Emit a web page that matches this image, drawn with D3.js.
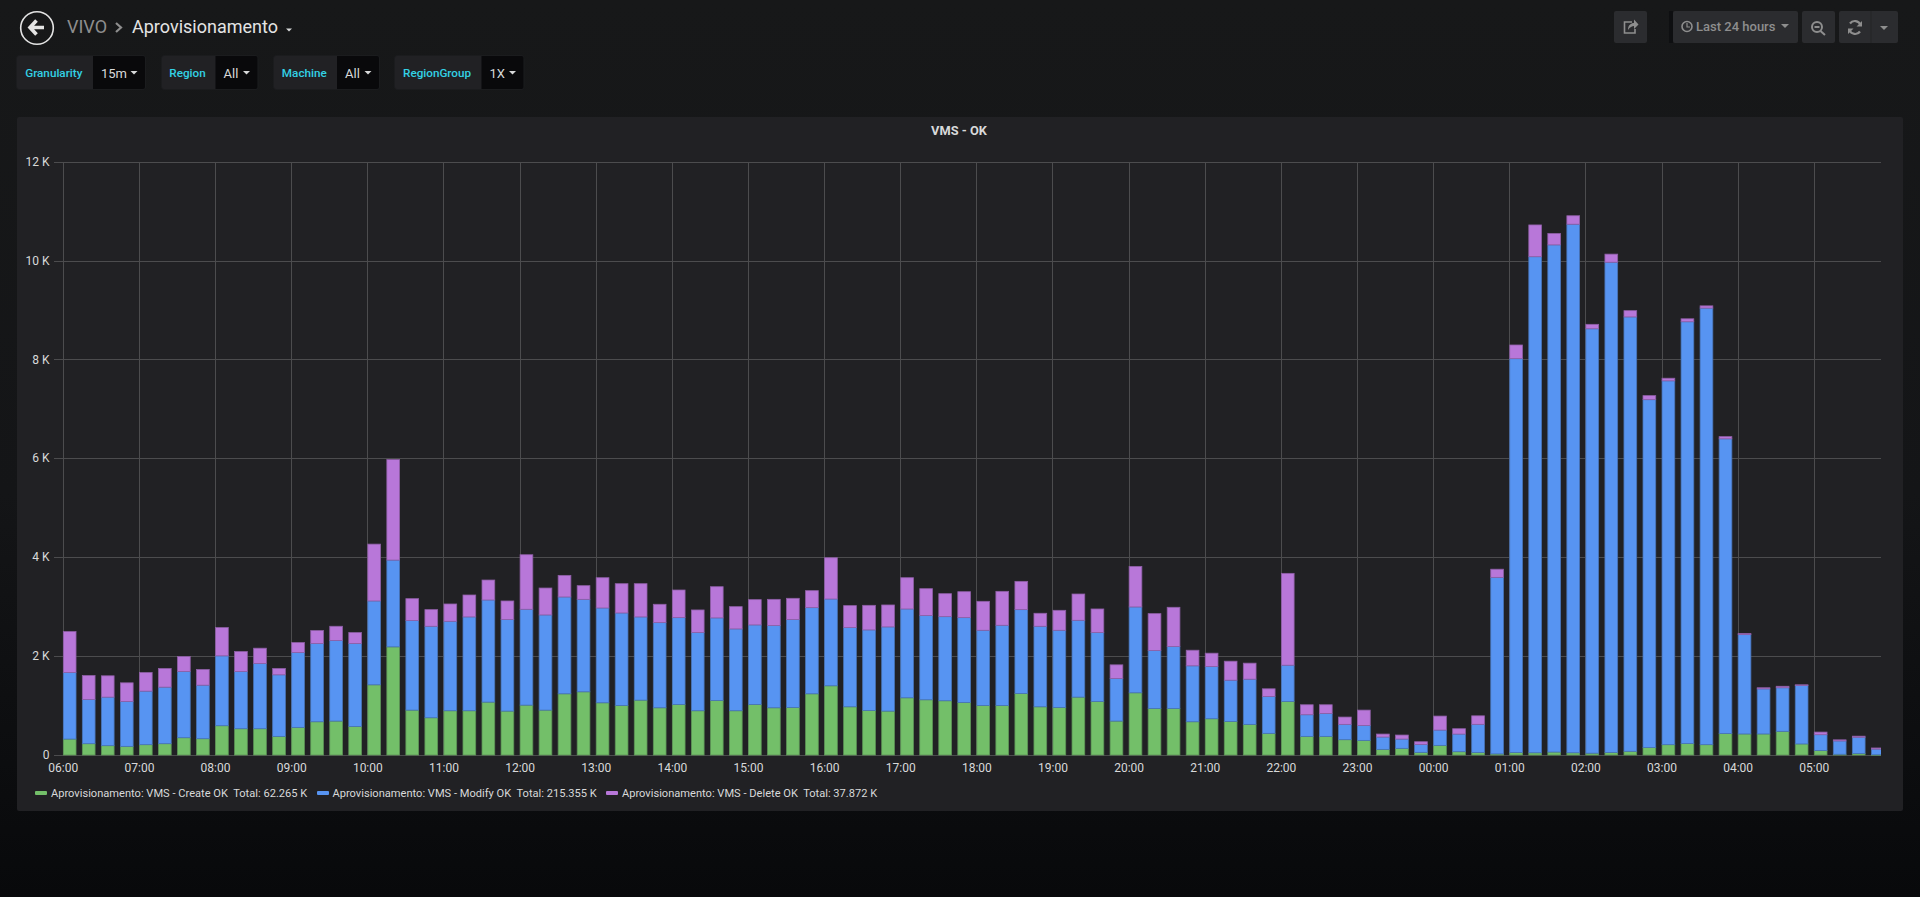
<!DOCTYPE html>
<html>
<head>
<meta charset="utf-8">
<script src="https://cdn.jsdelivr.net/npm/d3@7/dist/d3.min.js"></script>
<style>
html,body{margin:0;padding:0;background:#0b0c0e;overflow:hidden}
svg{display:block;font-family:Roboto,sans-serif}
</style>
</head>
<body>
<svg id="c" width="1920" height="897"></svg>
<script>
const startHour = 6;
const tickLabels = ["06:00","07:00","08:00","09:00","10:00","11:00","12:00","13:00","14:00","15:00","16:00","17:00","18:00","19:00","20:00","21:00","22:00","23:00","00:00","01:00","02:00","03:00","04:00","05:00"];
const yTickValues = [0,2000,4000,6000,8000,10000,12000];
const yTickLabels = ["0","2 K","4 K","6 K","8 K","10 K","12 K"];
const seriesNames = ["Aprovisionamento: VMS - Create OK","Aprovisionamento: VMS - Modify OK","Aprovisionamento: VMS - Delete OK"];
const seriesTotals = ["62.265 K","215.355 K","37.872 K"];
const seriesColors = ["#73bf69","#5794f2","#b877d9"];
// values, one per 15 minute bucket
const createOk = [323,229,189,175,209,229,350,330,593,532,532,377,559,673,687,579,1421,2189,909,754,896,896,1071,889,
1010,909,1239,1279,1057,1003,1111,956,1024,896,1104,896,1024,956,963,1239,1401,976,902,889,1158,1118,1098,1064,
1003,1003,1246,976,963,1172,1084,687,1259,943,943,673,734,680,620,438,1084,377,377,310,296,114,135,54,
195,67,52,22,52,45,60,45,37,52,75,150,209,232,209,434,426,426,479,224,90,15,30,5];
const modifyOk = [1347,896,983,909,1084,1145,1340,1084,1414,1158,1320,1246,1515,1583,1630,1677,1697,1757,1812,1852,1811,1899,2067,1852,
1940,1926,1960,1872,1919,1872,1684,1724,1757,1582,1671,1656,1609,1664,1778,1744,1757,1603,1630,1704,1798,1704,1703,1717,
1522,1623,1697,1630,1562,1555,1394,862,1738,1171,1252,1132,1057,835,915,747,734,438,465,310,303,250,188,161,
310,357,569,3574,7971,10042,10266,10700,8591,9923,8793,7043,7365,8538,8838,5966,2011,912,882,1182,321,269,329,115];
const deleteOk = [828,484,431,377,377,377,303,317,572,404,310,128,202,263,289,222,1151,2034,444,337,350,444,404,377,
1104,545,437,277,613,593,673,371,559,458,632,451,512,531,431,344,835,445,498,444,633,545,465,525,
586,687,572,263,404,532,478,276,821,748,795,316,270,384,324,155,1859,202,175,148,310,60,81,54,
283,108,172,165,277,643,231,171,90,164,127,82,53,60,45,45,23,23,30,15,53,23,22,22];

const W = 1920, H = 897;
const svg = d3.select("#c");
const plot = {left:63.3, right:1881, top:162.2, bottom:755};
const stepH = 76.13;

const defs = svg.append("defs");
const bg = defs.append("linearGradient").attr("id","bg").attr("x1",0).attr("y1",0).attr("x2",0).attr("y2",1);
bg.append("stop").attr("offset","0").attr("stop-color","#171819");
bg.append("stop").attr("offset","0.55").attr("stop-color","#141517");
bg.append("stop").attr("offset","1").attr("stop-color","#08090b");
svg.append("rect").attr("width",W).attr("height",H).attr("fill","url(#bg)");
defs.append("clipPath").attr("id","plotClip").append("rect")
  .attr("x",plot.left-1).attr("y",plot.top-20).attr("width",plot.right-plot.left+1).attr("height",plot.bottom-plot.top+21);

// header -----------------------------------------------------------
const head = svg.append("g");
head.append("circle").attr("cx",37).attr("cy",28).attr("r",16.3).attr("fill","none").attr("stroke","#e4e4e4").attr("stroke-width",1.6);
head.append("path").attr("d","M36.5 20.5 L30 27.5 L36.5 34.5 M31 27.5 H44").attr("fill","none").attr("stroke","#e4e4e4").attr("stroke-width",3.6);
head.append("text").attr("x",67).attr("y",33).attr("font-size",18).attr("fill","#8e8e8e").text("VIVO");
head.append("path").attr("d","M116 23 L121 27.5 L116 32").attr("fill","none").attr("stroke","#8e8e8e").attr("stroke-width",2.2);
head.append("text").attr("x",132).attr("y",33).attr("font-size",18).attr("fill","#e4e4e4").text("Aprovisionamento");
head.append("path").attr("d","M286 28.5 h6 l-3 3 z").attr("fill","#d8d9da");

const variables = [
  {label:"Granularity",value:"15m",x0:16,x1:93,x2:145},
  {label:"Region",value:"All",x0:161,x1:215.5,x2:257.5},
  {label:"Machine",value:"All",x0:273,x1:337,x2:379},
  {label:"RegionGroup",value:"1X",x0:394,x1:481.5,x2:523.5}
];
const vg = head.selectAll("g.v").data(variables).join("g");
vg.append("rect").attr("x",d=>d.x0+.5).attr("y",55.5).attr("width",d=>d.x2-d.x0).attr("height",34).attr("rx",3).attr("fill","#212124").attr("stroke","#1b1c1e");
vg.append("path").attr("d",d=>`M${d.x1} 56 H${d.x2-2} a2 2 0 0 1 2 2 V87 a2 2 0 0 1 -2 2 H${d.x1} Z`).attr("fill","#09090b");
vg.append("text").attr("x",d=>(d.x0+d.x1)/2-0.7).attr("y",77).attr("text-anchor","middle").attr("font-size",11.7).attr("font-weight",500).attr("style","fill:#33d1e5").text(d=>d.label);
vg.append("text").attr("x",d=>d.x1+8).attr("y",78).attr("font-size",13).attr("fill","#d8d9da").text(d=>d.value);
vg.append("path").attr("d",d=>`M${d.x2-14.5} 71 h7 l-3.5 3.5 z`).attr("fill","#d8d9da");

// toolbar ----------------------------------------------------------
const tb = svg.append("g");
[[1614,33],[1673,125],[1802,33],[1839,59]].forEach(b=>{
  tb.append("rect").attr("x",b[0]).attr("y",11).attr("width",b[1]).attr("height",32).attr("rx",2).attr("fill","#2b2c2f");
});
tb.append("rect").attr("x",1669).attr("y",11).attr("width",4).attr("height",32).attr("fill","#0e0f11");
tb.append("path").attr("d","M1632 22 H1624.5 V33 H1635 V29").attr("fill","none").attr("stroke","#8e8e8e").attr("stroke-width",1.6);
tb.append("path").attr("d","M1628 30 C1628 25 1631 23 1634 23 V19.5 L1638.5 24.5 L1634 29 V26 C1632 26 1630 27 1628 30 Z").attr("fill","#8e8e8e");
tb.append("circle").attr("cx",1687).attr("cy",26.5).attr("r",5).attr("fill","none").attr("stroke","#8e8e8e").attr("stroke-width",1.6);
tb.append("path").attr("d","M1687 23 V27 H1690").attr("fill","none").attr("stroke","#8e8e8e").attr("stroke-width",1.2);
tb.append("text").attr("x",1696).attr("y",31).attr("font-size",13).attr("font-weight",500).attr("fill","#8e8e8e").text("Last 24 hours");
tb.append("path").attr("d","M1781 24 h8 l-4 4 z").attr("fill","#8e8e8e");
tb.append("circle").attr("cx",1817).attr("cy",27).attr("r",5).attr("fill","none").attr("stroke","#8e8e8e").attr("stroke-width",2);
tb.append("path").attr("d","M1814.5 27 h5 M1820.5 31 L1825 35").attr("fill","none").attr("stroke","#8e8e8e").attr("stroke-width",2);
tb.append("path").attr("d","M1860.5 25 a6 6 0 0 0 -10.5 -1.5 M1849.5 30 a6 6 0 0 0 10.5 1.5").attr("fill","none").attr("stroke","#8e8e8e").attr("stroke-width",2.2);
tb.append("path").attr("d","M1862 21 v5.5 h-5.5 z M1848 34 v-5.5 h5.5 z").attr("fill","#8e8e8e");
tb.append("rect").attr("x",1870.5).attr("y",11).attr("width",1).attr("height",32).attr("fill","#242527");
tb.append("path").attr("d","M1880 26 h8 l-4 4 z").attr("fill","#8e8e8e");

// panel ------------------------------------------------------------
svg.append("rect").attr("x",17).attr("y",117).attr("width",1886).attr("height",694).attr("rx",2).attr("fill","#212124");
svg.append("text").attr("x",959).attr("y",135).attr("text-anchor","middle").attr("font-size",12.8).attr("font-weight",700).attr("fill","#d8d9da").text("VMS - OK");

// chart ------------------------------------------------------------
const t0 = Date.UTC(2020,0,1,startHour);
const quarter = 15*60*1000;
const buckets = createOk.map((_,i)=>t0+i*quarter);
const x = d3.scaleUtc().domain([t0,t0+quarter*4]).range([plot.left,plot.left+stepH]);
const y = d3.scaleLinear().domain([0,12000]).range([plot.bottom,plot.top]);
const rows = buckets.map((t,i)=>({t,create:createOk[i],modify:modifyOk[i],del:deleteOk[i]}));
const stack = d3.stack().keys(["create","modify","del"])(rows);

const g = svg.append("g");
const gridColor = "#4c4c4e";
const tickTimes = tickLabels.map((_,i)=>t0+i*4*quarter);

const yAxis = d3.axisLeft(y).tickValues(yTickValues).tickSize(plot.right-53.5).tickPadding(4).offset(0)
  .tickFormat((d,i)=>yTickLabels[i]);
const yG = g.append("g").attr("transform",`translate(${plot.right},0)`).call(yAxis);
yG.select(".domain").remove();
yG.selectAll("line").attr("stroke",gridColor).attr("stroke-width",1).attr("shape-rendering","crispEdges");
yG.selectAll("text").attr("fill","#d8d9da").attr("font-size",12).attr("font-family","Roboto,sans-serif");

const xAxis = d3.axisBottom(x).tickValues(tickTimes).tickSize(plot.top-plot.bottom).tickPadding(0).offset(0)
  .tickFormat((d,i)=>tickLabels[i]);
const xG = g.append("g").attr("transform",`translate(0,${plot.bottom})`).call(xAxis);
xG.select(".domain").remove();
xG.selectAll("line").attr("stroke",gridColor).attr("stroke-width",1).attr("shape-rendering","crispEdges");
xG.selectAll("text").attr("fill","#d8d9da").attr("font-size",12).attr("font-family","Roboto,sans-serif")
  .attr("y",17).attr("dy",0);

const barW = x(t0+quarter)-x(t0)-6.3;
stack.forEach((s,k)=>{
  g.append("g").attr("clip-path","url(#plotClip)").selectAll("rect").data(s).join("rect")
    .attr("x",d=>x(d.data.t))
    .attr("width",barW)
    .attr("y",d=>y(d[1]))
    .attr("height",d=>Math.max(0.5,y(d[0])-y(d[1])))
    .attr("fill",seriesColors[k])
    .attr("stroke",d3.interpolateRgb(seriesColors[k],"#212124")(0.28))
    .attr("stroke-width",0.8);
});

// legend -----------------------------------------------------------
const legendX = [[35,51],[317,332.5],[606,622]];
const lg = svg.append("g").selectAll("g").data(seriesNames).join("g");
lg.append("rect").attr("x",(d,i)=>legendX[i][0]).attr("y",791).attr("width",12).attr("height",4).attr("rx",1).attr("fill",(d,i)=>seriesColors[i]);
lg.append("text").attr("x",(d,i)=>legendX[i][1]).attr("y",797).attr("font-size",11.1).attr("fill","#d8d9da")
  .style("white-space","pre").text((d,i)=>`${d}  Total: ${seriesTotals[i]}`);
</script>
</body>
</html>
